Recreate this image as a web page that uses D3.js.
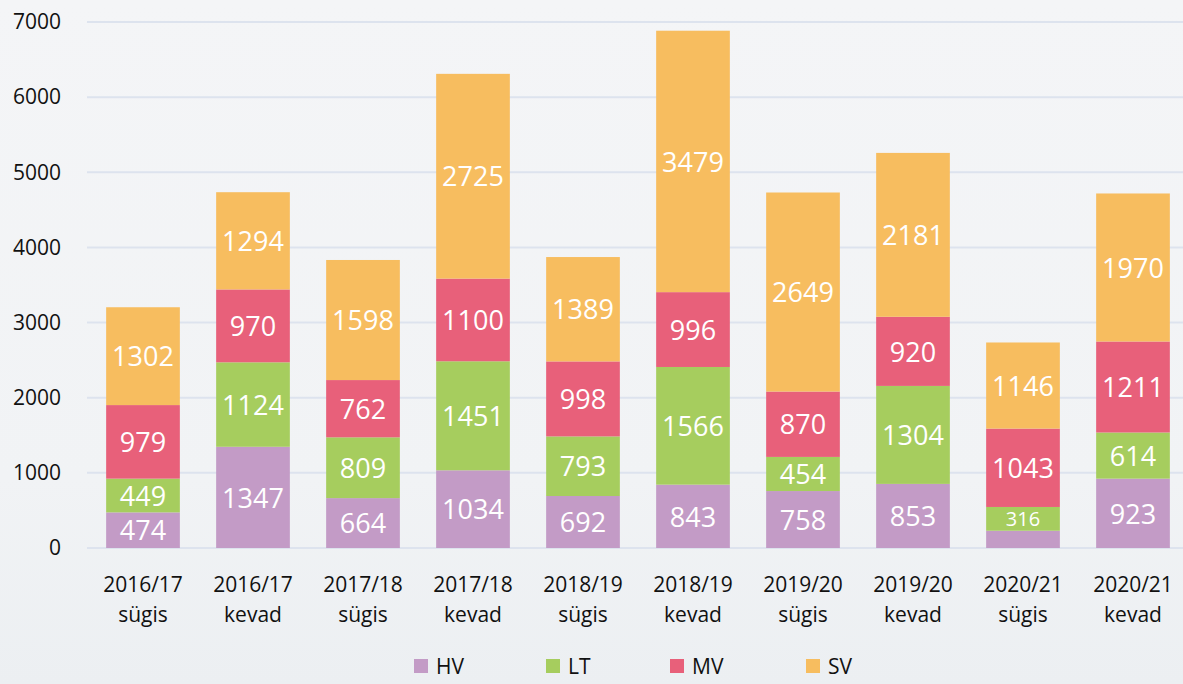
<!DOCTYPE html>
<html>
<head>
<meta charset="utf-8">
<script src="https://cdn.jsdelivr.net/npm/d3@7"></script>
<style>
  body { margin: 0; background: #f2f4f6; }
  svg { display: block; }
  svg text { font-family: "Open Sans", "Noto Sans", sans-serif; }
</style>
</head>
<body>
<div id="chart"></div>
<script>
var periods = ['2016/17|sügis', '2016/17|kevad', '2017/18|sügis', '2017/18|kevad', '2018/19|sügis',
  '2018/19|kevad', '2019/20|sügis', '2019/20|kevad', '2020/21|sügis', '2020/21|kevad'];
var seriesNames = ['HV', 'LT', 'MV', 'SV'];
var hv = [474, 1347, 664, 1034, 692, 843, 758, 853, 230, 923];
var lt = [449, 1124, 809, 1451, 793, 1566, 454, 1304, 316, 614];
var mv = [979, 970, 762, 1100, 998, 996, 870, 920, 1043, 1211];
var sv = [1302, 1294, 1598, 2725, 1389, 3479, 2649, 2181, 1146, 1970];
var hvLabels = [474, 1347, 664, 1034, 692, 843, 758, 853, null, 923];
var yTicks = [0, 1000, 2000, 3000, 4000, 5000, 6000, 7000];
var colors = ['#c39bc6', '#a6cd5e', '#e8607a', '#f7bd5f'];

var settings = {
  width: 1183,
  height: 684,
  left: 88,
  right: 1188,
  top: 22,
  bottom: 548
};

var svg = d3.select('#chart').append('svg')
  .attr('width', settings.width)
  .attr('height', settings.height);

// faint foggy background
var defs = svg.append('defs');
var grad = defs.append('linearGradient').attr('id', 'bg').attr('x1', 0).attr('y1', 0).attr('x2', 0).attr('y2', 1);
grad.append('stop').attr('offset', '0%').attr('stop-color', '#f4f5f7');
grad.append('stop').attr('offset', '70%').attr('stop-color', '#f1f3f5');
grad.append('stop').attr('offset', '100%').attr('stop-color', '#eceff2');
svg.append('rect').attr('width', settings.width).attr('height', settings.height).attr('fill', 'url(#bg)');

var x = d3.scaleBand()
  .domain(periods)
  .range([settings.left, settings.right])
  .paddingInner(0.33)
  .paddingOuter(0.165);

var y = d3.scaleLinear()
  .domain([0, 7000])
  .range([settings.bottom, settings.top]);

// gridlines
svg.append('g')
  .selectAll('line')
  .data(yTicks)
  .enter().append('line')
  .attr('x1', settings.left - 1)
  .attr('x2', settings.width)
  .attr('y1', function(d) { return y(d); })
  .attr('y2', function(d) { return y(d); })
  .style('stroke', '#dde3ee')
  .style('stroke-width', 2);

// y axis labels
var yAxis = d3.axisLeft(y).tickValues(yTicks).tickFormat(d3.format('d')).tickSize(0).tickPadding(0);
var yg = svg.append('g')
  .attr('transform', 'translate(61,0)')
  .call(yAxis);
yg.select('.domain').remove();
yg.selectAll('text')
  .style('font-size', '21px')
  .style('fill', '#111');

// stacked data
var rows = periods.map(function(p, i) {
  return { period: p, HV: hv[i], LT: lt[i], MV: mv[i], SV: sv[i], hvLabel: hvLabels[i] };
});
var stack = d3.stack().keys(seriesNames)(rows);

var layer = svg.selectAll('g.layer')
  .data(stack)
  .enter().append('g')
  .attr('class', 'layer')
  .style('fill', function(d, i) { return colors[i]; });

layer.selectAll('rect')
  .data(function(d) { return d; })
  .enter().append('rect')
  .attr('x', function(d) { return x(d.data.period); })
  .attr('width', x.bandwidth())
  .attr('y', function(d) { return y(d[1]); })
  .attr('height', function(d) { return y(d[0]) - y(d[1]); });

// value labels
stack.forEach(function(s) {
  svg.append('g')
    .selectAll('text')
    .data(s.filter(function(d) {
      return s.key !== 'HV' || d.data.hvLabel !== null;
    }))
    .enter().append('text')
    .attr('x', function(d) { return x(d.data.period) + x.bandwidth() / 2; })
    .attr('y', function(d) { return (y(d[0]) + y(d[1])) / 2; })
    .attr('dy', '0.38em')
    .style('text-anchor', 'middle')
    .style('fill', '#fff')
    .style('font-size', function(d) { return (d[1] - d[0]) < 400 ? '20px' : '27px'; })
    .text(function(d) { return d.data[s.key]; });
});

// x labels
var xl = svg.append('g')
  .selectAll('text')
  .data(periods)
  .enter().append('text')
  .attr('x', function(d) { return x(d) + x.bandwidth() / 2; })
  .attr('y', 592)
  .style('text-anchor', 'middle')
  .style('font-size', '21px')
  .style('fill', '#111');
xl.append('tspan')
  .attr('x', function(d) { return x(d) + x.bandwidth() / 2; })
  .text(function(d) { return d.split('|')[0]; });
xl.append('tspan')
  .attr('x', function(d) { return x(d) + x.bandwidth() / 2; })
  .attr('dy', 30)
  .text(function(d) { return d.split('|')[1]; });

// legend
var legendX = [414, 546, 670, 806];
var legend = svg.append('g')
  .selectAll('g')
  .data(seriesNames)
  .enter().append('g')
  .attr('transform', function(d, i) { return 'translate(' + legendX[i] + ',666)'; });
legend.append('rect')
  .attr('width', 14)
  .attr('height', 14)
  .attr('y', -7)
  .style('fill', function(d, i) { return colors[i]; });
legend.append('text')
  .attr('x', 22)
  .attr('dy', '0.36em')
  .style('font-size', '21px')
  .style('fill', '#111')
  .text(function(d) { return d; });
</script>
</body>
</html>
